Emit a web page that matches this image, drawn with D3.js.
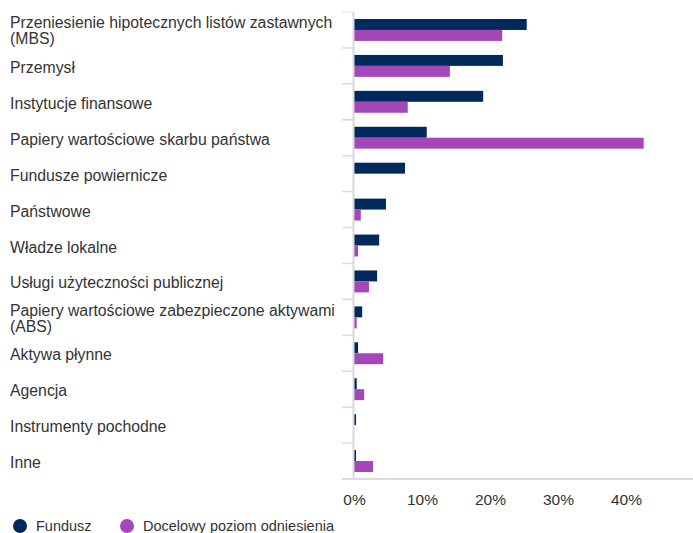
<!DOCTYPE html>
<html>
<head>
<meta charset="utf-8">
<script src="https://cdn.jsdelivr.net/npm/d3@7"></script>
<style>
    body { margin: 0; background: #fff; }
    svg { display: block; font-family: "Liberation Sans", Arial, sans-serif; }
</style>
</head>
<body>
<div id="chart"></div>
<script>
// chart data
var categories = [
    "Przeniesienie hipotecznych listów zastawnych (MBS)",
    "Przemysł",
    "Instytucje finansowe",
    "Papiery wartościowe skarbu państwa",
    "Fundusze powiernicze",
    "Państwowe",
    "Władze lokalne",
    "Usługi użyteczności publicznej",
    "Papiery wartościowe zabezpieczone aktywami (ABS)",
    "Aktywa płynne",
    "Agencja",
    "Instrumenty pochodne",
    "Inne"
];
var seriesNames = ["Fundusz", "Docelowy poziom odniesienia"];
var fundValues = [25.4, 21.9, 19.0, 10.7, 7.5, 4.7, 3.7, 3.4, 1.2, 0.6, 0.4, 0.3, 0.3];
var benchValues = [21.8, 14.1, 7.9, 42.6, 0, 1.0, 0.6, 2.2, 0.4, 4.3, 1.5, 0, 2.8];
var tickValues = [0, 10, 20, 30, 40];
var colors = ["#002a5c", "#a347b9"];

(function () {
    var width = 693, height = 533;
    var left = 354, right = 694, top = 12, bottom = 479;
    var labelSize = 15.8, lineH = 16;

    var svg = d3.select("#chart").append("svg")
        .attr("width", width)
        .attr("height", height);

    var x = d3.scaleLinear().domain([0, 50]).range([left, right]);
    var y = d3.scaleBand().domain(categories).range([top, bottom]);
    var ySub = d3.scaleBand().domain(seriesNames).range([0, y.bandwidth()]).paddingOuter(0.64);

    var rows = categories.map(function (c, i) {
        return { cat: c, values: [fundValues[i], benchValues[i]] };
    });

    // short category separators at the left of the axis
    svg.append("g").selectAll("line")
        .data(categories.concat(["_end"]))
        .enter().append("line")
        .attr("x1", left - 12).attr("x2", left)
        .attr("y1", function (d, i) { return top + i * y.step(); })
        .attr("y2", function (d, i) { return top + i * y.step(); })
        .attr("stroke", function (d, i) { return i === 0 ? "#e6eaf4" : "#d3dbee"; })
        .attr("stroke-width", 1.5);

    // bars
    var groups = svg.append("g").selectAll("g")
        .data(rows)
        .enter().append("g")
        .attr("transform", function (d) { return "translate(0," + y(d.cat) + ")"; });

    groups.selectAll("rect")
        .data(function (d) { return d.values.map(function (v, k) { return { v: v, s: seriesNames[k], k: k }; }); })
        .enter().append("rect")
        .attr("x", x(0))
        .attr("y", function (d) { return ySub(d.s); })
        .attr("width", function (d) { return x(d.v) - x(0); })
        .attr("height", ySub.bandwidth())
        .attr("fill", function (d) { return colors[d.k]; });

    // axis lines
    svg.append("line")
        .attr("x1", left - 0.5).attr("x2", left - 0.5)
        .attr("y1", top).attr("y2", bottom)
        .attr("stroke", "#d9d9d9").attr("stroke-width", 2);

    svg.append("line")
        .attr("x1", left - 12).attr("x2", width)
        .attr("y1", bottom).attr("y2", bottom)
        .attr("stroke", "#dcdcdc").attr("stroke-width", 2);

    // x tick labels
    var xAxis = svg.append("g")
        .attr("transform", "translate(0," + bottom + ")")
        .call(d3.axisBottom(x).tickValues(tickValues).tickSize(0).tickPadding(15)
            .tickFormat(function (d) { return d + "%"; }));
    xAxis.select(".domain").remove();
    xAxis.selectAll("text")
        .attr("font-size", 15.5)
        .attr("font-family", "Liberation Sans, Arial, sans-serif")
        .attr("fill", "#333");

    // category labels, wrapped
    var maxW = 340;
    var labels = svg.append("g").selectAll("text")
        .data(categories)
        .enter().append("text")
        .attr("x", 10)
        .attr("font-size", labelSize)
        .attr("fill", "#333");

    labels.each(function (d) {
        var t = d3.select(this);
        var words = d.split(" "), lines = [], line = [];
        words.forEach(function (w) {
            line.push(w);
            t.text(line.join(" "));
            if (this.getComputedTextLength() > maxW && line.length > 1) {
                line.pop();
                lines.push(line.join(" "));
                line = [w];
            }
        }, this);
        lines.push(line.join(" "));
        t.text(null);
        var cy = y(d) + y.bandwidth() / 2;
        var y0 = cy + 7 - (lines.length - 1) * 8.5;
        lines.forEach(function (l, i) {
            t.append("tspan").attr("x", 10).attr("y", y0 + i * lineH).text(l);
        });
    });

    // legend
    var legendX = [20, 127];
    var legend = svg.append("g").selectAll("g")
        .data(seriesNames)
        .enter().append("g")
        .attr("transform", function (d, i) { return "translate(" + legendX[i] + ",526)"; });

    legend.append("circle")
        .attr("r", 7)
        .attr("fill", function (d, i) { return colors[i]; });

    legend.append("text")
        .attr("x", 16)
        .attr("y", 5)
        .attr("font-size", 14.5)
        .attr("fill", "#333")
        .text(function (d) { return d; });
})();
</script>
</body>
</html>
